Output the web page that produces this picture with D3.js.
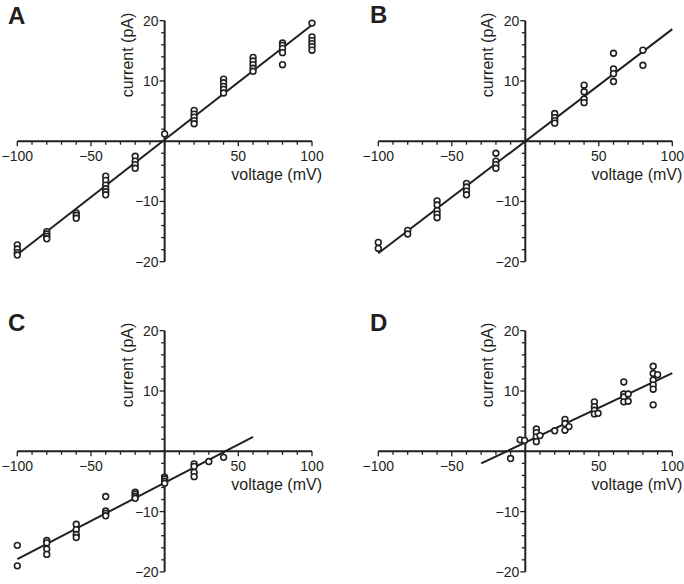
<!DOCTYPE html>
<html><head><meta charset="utf-8">
<script src="https://cdn.jsdelivr.net/npm/d3@7"></script>
<style>
body{margin:0;background:#fff;}
text{font-family:"Liberation Sans",Arial,Helvetica,sans-serif;fill:#231f20;}
</style></head>
<body>
<svg id="chart" width="684" height="584"></svg>
<script>
// ---- Data ----
const panelLetters = ["A","B","C","D"];
const xTickValues = [-100,-50,50,100];
const yTickValues = [-20,-10,10,20];
const xLabel = "voltage (mV)";
const yLabel = "current (pA)";

const voltageA = [-100,-100,-100,-100,-80,-80,-80,-80,-60,-60,-60,-40,-40,-40,-40,-40,-40,-20,-20,-20,-20,0,
  20,20,20,20,20,40,40,40,40,40,60,60,60,60,60,80,80,80,80,80,100,100,100,100,100,100];
const currentA = [-17.2,-17.9,-18.5,-18.9,-15.0,-15.4,-15.8,-16.2,-11.9,-12.3,-12.8,-5.8,-6.5,-7.3,-7.9,-8.4,-8.9,-2.5,-3.3,-3.9,-4.5,1.2,
  5.1,4.5,4.0,3.4,2.9,10.3,9.7,9.1,8.6,8.0,13.9,13.3,12.7,12.1,11.6,16.3,15.9,15.4,14.7,12.7,19.6,17.3,16.7,16.2,15.7,15.1];
const fitA_v = [-100,100];
const fitA_i = [-18.8,19.3];

const voltageB = [-100,-100,-80,-80,-60,-60,-60,-60,-60,-40,-40,-40,-40,-20,-20,-20,-20,
  20,20,20,20,40,40,40,40,60,60,60,60,80,80];
const currentB = [-16.8,-17.8,-14.8,-15.4,-9.9,-10.6,-11.5,-12.1,-12.7,-7.0,-7.6,-8.3,-8.9,-2.0,-3.3,-3.9,-4.5,
  4.6,3.9,3.4,3.0,9.3,8.2,7.0,6.4,14.6,12.0,11.2,9.9,15.1,12.6];
const fitB_v = [-100,100];
const fitB_i = [-18.6,18.6];

const voltageC = [-100,-100,-80,-80,-80,-80,-60,-60,-60,-60,-40,-40,-40,-40,-20,-20,-20,-20,
  0,0,0,0,20,20,20,20,30,40];
const currentC = [-15.6,-19.0,-14.8,-15.2,-16.2,-17.1,-12.1,-13.0,-13.8,-14.3,-7.5,-9.9,-10.3,-10.7,-6.8,-7.1,-7.5,-7.8,
  -4.3,-4.6,-5.0,-5.3,-2.1,-2.5,-3.5,-4.2,-1.7,-1.0];
const fitC_v = [-100,60];
const fitC_i = [-17.9,2.4];

const voltageD = [-10,-3.5,-0.5,7.5,7.5,7.5,7.5,10,20,27,27,27,29.7,47,47,47,47,49.5,
  67,67,67,67,70,70,87,87,87,87,87,87,90];
const currentD = [-1.2,1.9,1.8,3.7,3.1,2.4,1.6,2.6,3.4,5.3,4.6,3.5,4.1,8.2,7.4,6.8,6.2,6.3,
  11.5,9.5,9.0,8.2,9.5,8.3,14.1,12.9,11.8,11.0,10.3,7.7,12.7];
const fitD_v = [-30,100];
const fitD_i = [-2.0,12.95];

// ---- Layout ----
const panels = [
  {letter:panelLetters[0], v:voltageA, i:currentA, fv:fitA_v, fi:fitA_i, x0:17.3, x1:312, yT:20.7, yB:261.7, lx:8, ly:24},
  {letter:panelLetters[1], v:voltageB, i:currentB, fv:fitB_v, fi:fitB_i, x0:378.3, x1:672.3, yT:20.7, yB:261.7, lx:370, ly:23},
  {letter:panelLetters[2], v:voltageC, i:currentC, fv:fitC_v, fi:fitC_i, x0:17.3, x1:312, yT:330.7, yB:571.9, lx:8, ly:331},
  {letter:panelLetters[3], v:voltageD, i:currentD, fv:fitD_v, fi:fitD_i, x0:378.3, x1:672.3, yT:330.7, yB:571.9, lx:370, ly:331}
];

const svg = d3.select("#chart");
const fmt = d => d < 0 ? "\u2212" + Math.abs(d) : String(d);

panels.forEach(p => {
  const x = d3.scaleLinear().domain([-100,100]).range([p.x0,p.x1]);
  const y = d3.scaleLinear().domain([-20,20]).range([p.yB,p.yT]);
  const g = svg.append("g");
  const x0 = x(0), y0 = y(0);

  // x axis minor ticks
  const xMinor = d3.range(-100,101,10);
  g.append("g").selectAll("line").data(xMinor).join("line")
    .attr("x1", d=>x(d)).attr("x2", d=>x(d))
    .attr("y1", y0).attr("y2", d => y0 + (d % 50 === 0 ? 5 : 3.5))
    .attr("stroke","#231f20").attr("stroke-width",1.3);
  // y axis minor ticks
  const yMinor = d3.range(-20,21,2);
  g.append("g").selectAll("line").data(yMinor).join("line")
    .attr("y1", d=>y(d)).attr("y2", d=>y(d))
    .attr("x1", x0).attr("x2", d => x0 - (d % 10 === 0 ? 5 : 3.5))
    .attr("stroke","#231f20").attr("stroke-width",1.3);

  // axis lines
  g.append("line").attr("x1",x(-100)).attr("x2",x(100)).attr("y1",y0).attr("y2",y0)
    .attr("stroke","#231f20").attr("stroke-width",2);
  g.append("line").attr("x1",x0).attr("x2",x0).attr("y1",y(-20)).attr("y2",y(20))
    .attr("stroke","#231f20").attr("stroke-width",2);

  // tick labels
  g.append("g").selectAll("text").data(xTickValues).join("text")
    .attr("x", d=>x(d)).attr("y", y0 + 20)
    .attr("text-anchor","middle").attr("font-size",14).text(fmt);
  g.append("g").selectAll("text").data(yTickValues).join("text")
    .attr("x", x0 - 6).attr("y", d=>y(d)).attr("dy","0.36em")
    .attr("text-anchor","end").attr("font-size",14).text(fmt);

  // axis titles
  g.append("text").attr("x", x(100)+10).attr("y", y0+39)
    .attr("text-anchor","end").attr("font-size",16).text(xLabel);
  g.append("text").attr("transform",`translate(${x0-32},${y(20)-8}) rotate(-90)`)
    .attr("text-anchor","end").attr("font-size",16).text(yLabel);

  // fit line
  const fit = p.fv.map((v,k)=>[v,p.fi[k]]);
  g.append("path").datum(fit)
    .attr("d", d3.line().x(d=>x(d[0])).y(d=>y(d[1])))
    .attr("fill","none").attr("stroke","#231f20").attr("stroke-width",2);

  // points
  const pts = p.v.map((v,k)=>[v,p.i[k]]);
  g.append("g").selectAll("circle").data(pts).join("circle")
    .attr("cx", d=>x(d[0])).attr("cy", d=>y(d[1])).attr("r",2.9)
    .attr("fill","#fff").attr("stroke","#231f20").attr("stroke-width",1.6);

  // panel letter
  svg.append("text").attr("x",p.lx).attr("y",p.ly)
    .attr("font-size",24).attr("font-weight","bold").text(p.letter);
});
</script>
</body></html>
